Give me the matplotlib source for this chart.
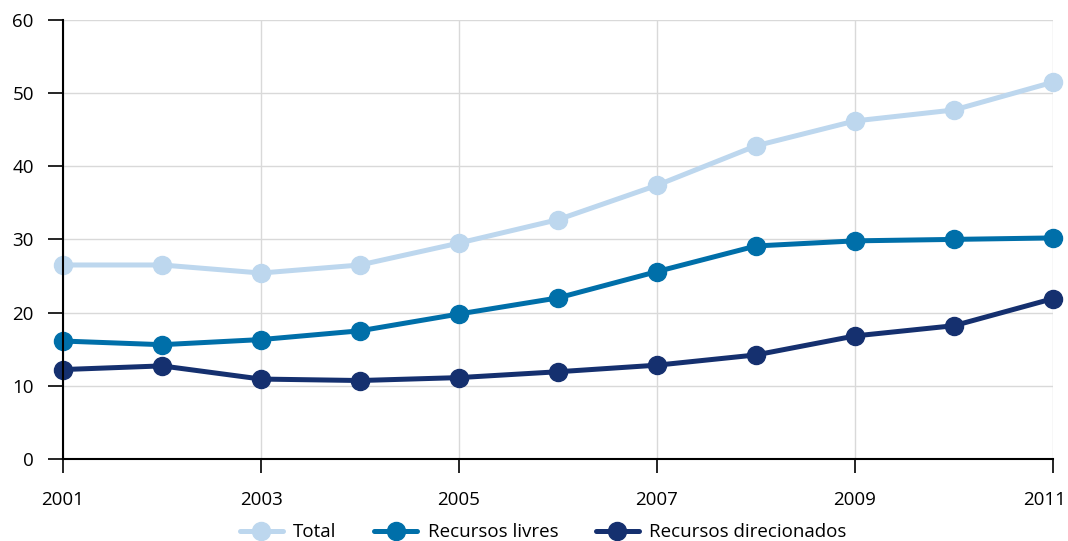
import matplotlib
matplotlib.use("Agg")
import matplotlib.pyplot as plt
import matplotlib.transforms as mtransforms

plt.rcParams['font.family'] = ['Open Sans', 'DejaVu Sans']

anos = [2001, 2002, 2003, 2004, 2005, 2006, 2007, 2008, 2009, 2010, 2011]
total = [26.5, 26.5, 25.4, 26.5, 29.5, 32.7, 37.4, 42.8, 46.2, 47.7, 51.5]
livres = [16.1, 15.6, 16.3, 17.5, 19.8, 22.0, 25.6, 29.1, 29.8, 30.0, 30.2]
direcionados = [12.2, 12.7, 10.9, 10.7, 11.1, 11.9, 12.8, 14.2, 16.8, 18.2, 21.9]

nomes = ['Total', 'Recursos livres', 'Recursos direcionados']
cores = ['#bdd7ee', '#006fa9', '#15306f']

fig = plt.figure(figsize=(10.68, 5.41), dpi=100)
ax = fig.add_axes([0.059, 0.152, 0.927, 0.811])

for serie, nome, cor in zip([total, livres, direcionados], nomes, cores):
    ax.plot(anos, serie, color=cor, linewidth=3.6, marker='o',
            markersize=13, label=nome, solid_capstyle='round', clip_on=False)

ax.set_xlim(2001, 2011)
ax.set_ylim(0, 60)
ax.set_xticks(range(2001, 2012, 2))
ax.set_yticks(range(0, 61, 10))

ax.grid(color='#d9d9d9', linewidth=1)
ax.set_axisbelow(True)
for s in ['top', 'right']:
    ax.spines[s].set_visible(False)
for s in ['left', 'bottom']:
    ax.spines[s].set_color('black')
    ax.spines[s].set_linewidth(1.5)

ax.tick_params(axis='x', length=10, width=1.2, pad=13, labelsize=13.5)
ax.tick_params(axis='y', length=11, width=1.2, pad=10, labelsize=13.5)

# last year label sits a bit left so it stays inside the figure
ultimo = ax.get_xticklabels()[-1]
ultimo.set_transform(ultimo.get_transform() +
                     mtransforms.ScaledTranslation(-8 / 100, 0, fig.dpi_scale_trans))

ax.legend(loc='center', bbox_to_anchor=(0.485, -0.168), ncol=3,
          frameon=False, fontsize=13.5, handlelength=2.3, columnspacing=2.0,
          handletextpad=0.55, markerscale=1.0, borderpad=0)

fig.savefig('out.png', dpi=100)
